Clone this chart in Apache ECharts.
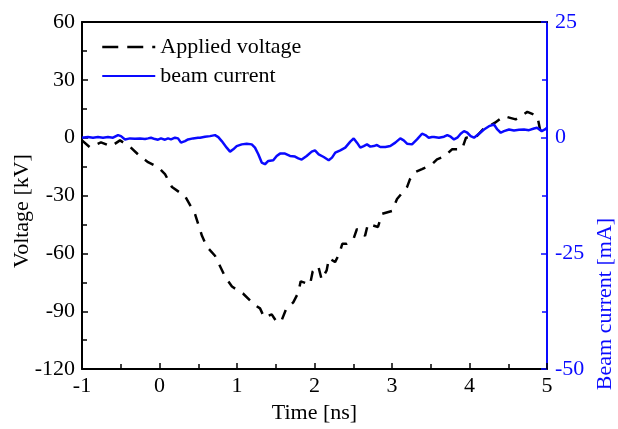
<!DOCTYPE html>
<html>
<head>
<meta charset="utf-8">
<script src="https://cdn.jsdelivr.net/npm/echarts@6/dist/echarts.min.js"></script>
<style>html,body{margin:0;padding:0;background:#fff;}#c{width:618px;height:429px;}</style>
</head>
<body>
<div id="c"></div>
<script>
// Applied voltage (kV) vs time (ns)
const voltageTime = [-1.000,-0.897,-0.755,-0.626,-0.510,-0.381,-0.252,-0.148,-0.019,0.071,0.161,0.329,0.458,0.548,0.613,0.716,0.845,0.935,1.077,1.232,1.297,1.352,1.448,1.516,1.577,1.632,1.726,1.791,1.822,1.942,1.977,2.049,2.093,2.157,2.187,2.265,2.320,2.359,2.415,2.501,2.548,2.652,2.690,2.819,2.871,3.000,3.065,3.194,3.232,3.297,3.387,3.516,3.581,3.684,3.774,3.903,3.955,4.084,4.174,4.329,4.445,4.596,4.746,4.875,4.910,5.000];
const voltageKV = [-1.4,-5.0,-2.4,-4.5,-1.4,-4.7,-9.6,-12.7,-15.3,-18.9,-25.6,-30.3,-39.5,-50.9,-56.6,-61.2,-72.0,-77.2,-80.8,-86.8,-88.5,-93.3,-91.6,-95.8,-94.6,-89.1,-85.4,-80.3,-74.5,-76.2,-69.3,-66.7,-73.6,-68.8,-62.4,-64.5,-60.2,-55.0,-55.0,-52.8,-47.3,-50.9,-44.7,-46.3,-39.5,-38.0,-31.8,-25.6,-21.5,-17.9,-16.3,-13.8,-11.2,-9.6,-6.0,-6.0,0.0,0.4,4.3,7.8,11.2,9.5,13.4,11.2,4.3,5.8];
// Beam current (mA) vs time (ns)
const currentTime = [-1.000,-0.923,-0.858,-0.794,-0.729,-0.665,-0.600,-0.535,-0.497,-0.445,-0.381,-0.316,-0.252,-0.187,-0.148,-0.110,-0.058,-0.019,0.019,0.071,0.110,0.148,0.200,0.239,0.277,0.329,0.368,0.432,0.497,0.523,0.587,0.652,0.716,0.759,0.803,0.867,0.910,0.952,0.996,1.061,1.125,1.190,1.232,1.275,1.319,1.361,1.404,1.468,1.512,1.555,1.619,1.684,1.748,1.791,1.835,1.899,1.964,2.006,2.054,2.119,2.183,2.226,2.268,2.333,2.397,2.462,2.506,2.548,2.591,2.635,2.677,2.720,2.764,2.806,2.849,2.914,2.978,3.043,3.107,3.151,3.194,3.258,3.323,3.387,3.430,3.474,3.516,3.542,3.606,3.671,3.714,3.757,3.800,3.843,3.886,3.929,3.972,4.015,4.058,4.123,4.187,4.252,4.316,4.359,4.403,4.445,4.510,4.574,4.639,4.703,4.768,4.832,4.871,4.932,4.974,5.000];
const currentMA = [0.0,0.13,0.0,0.13,0.0,0.13,0.0,0.56,0.34,-0.37,-0.15,-0.21,-0.15,-0.30,-0.15,0.0,-0.30,-0.43,-0.15,-0.43,-0.15,-0.37,0.0,-0.15,-1.07,-0.73,-0.37,-0.15,0.0,0.0,0.21,0.34,0.56,0.13,-0.73,-2.15,-3.01,-2.51,-1.81,-1.44,-1.29,-1.44,-2.15,-3.59,-5.37,-5.74,-5.03,-4.88,-3.95,-3.44,-3.44,-3.95,-4.08,-4.45,-4.73,-3.95,-3.01,-2.73,-3.59,-4.17,-4.88,-4.30,-3.22,-2.73,-2.15,-0.86,-0.15,-1.07,-2.15,-1.81,-1.44,-1.93,-1.81,-1.59,-2.02,-2.02,-1.81,-1.07,-0.15,-0.58,-1.29,-1.44,-0.37,0.86,0.56,0.0,0.13,0.13,0.0,0.21,0.56,0.21,-0.37,0.0,0.86,1.42,1.07,0.34,0.0,0.86,1.78,2.49,2.86,1.78,1.07,1.42,1.78,1.57,1.72,1.78,1.63,2.00,2.15,1.42,1.78,2.15];

const seriesNames = ['Applied voltage', 'beam current'];
const axisTitles = { x: 'Time [ns]', yLeft: 'Voltage [kV]', yRight: 'Beam current [mA]' };

const FONT = 'Liberation Serif, Times New Roman, serif';
const BLUE = '#0a0aff';

const chart = echarts.init(document.getElementById('c'), null, { renderer: 'canvas' });
const zip = (a, b) => a.map((v, i) => [v, b[i]]);

chart.setOption({
  backgroundColor: '#fff',
  animation: false,
  grid: { left: 82, right: 71, top: 22, bottom: 58, containLabel: false },
  legend: {
    orient: 'vertical', left: 96, top: 31,
    itemWidth: 53, itemHeight: 14, itemGap: 7,
    itemStyle: { opacity: 0, color: 'rgba(0,0,0,0)', borderWidth: 0 },
    textStyle: { fontFamily: FONT, fontSize: 22, color: '#000', lineHeight: 22 },
    data: [
      { name: seriesNames[0], lineStyle: { type: [16, 9], width: 2.5, color: '#000' }, itemStyle: { opacity: 0 } },
      { name: seriesNames[1], itemStyle: { opacity: 0 } }
    ]
  },
  xAxis: [{
    type: 'value', min: -1, max: 5, interval: 1,
    name: axisTitles.x, nameLocation: 'middle', nameGap: 30,
    nameTextStyle: { fontFamily: FONT, fontSize: 22, color: '#000' },
    axisLine: { show: true, onZero: false, lineStyle: { color: '#000', width: 2 } },
    axisTick: { show: true, inside: true, length: 6, lineStyle: { color: '#000', width: 1.5 } },
    minorTick: { show: true, splitNumber: 2, length: 5, lineStyle: { color: '#000', width: 1.5 } },
    axisLabel: { fontFamily: FONT, fontSize: 22, color: '#000', margin: 6 },
    splitLine: { show: false }
  }, {
    type: 'value', position: 'top', min: -1, max: 5, interval: 1,
    axisLine: { show: true, onZero: false, lineStyle: { color: '#000', width: 2 } },
    axisTick: { show: false }, axisLabel: { show: false }, splitLine: { show: false }
  }],
  yAxis: [{
    type: 'value', min: -120, max: 60, interval: 30, position: 'left',
    axisLine: { show: true, onZero: false, lineStyle: { color: '#000', width: 2 } },
    axisTick: { show: true, inside: true, length: 6, lineStyle: { color: '#000', width: 1.5 } },
    minorTick: { show: true, splitNumber: 2, length: 5, lineStyle: { color: '#000', width: 1.5 } },
    axisLabel: { fontFamily: FONT, fontSize: 22, color: '#000', margin: 7 },
    splitLine: { show: false }
  }, {
    type: 'value', min: -50, max: 25, interval: 25, position: 'right',
    axisLine: { show: true, onZero: false, lineStyle: { color: BLUE, width: 2 } },
    axisTick: { show: true, inside: true, length: 6, lineStyle: { color: BLUE, width: 1.5 } },
    minorTick: { show: true, splitNumber: 2, length: 5, lineStyle: { color: BLUE, width: 1.5 } },
    axisLabel: { fontFamily: FONT, fontSize: 22, color: BLUE, margin: 8 },
    splitLine: { show: false }
  }],
  graphic: [
    { type: 'text', x: 22, y: 211, rotation: Math.PI / 2,
      style: { text: axisTitles.yLeft, fontFamily: FONT, fontSize: 22, fill: '#000', textAlign: 'center', textVerticalAlign: 'middle' } },
    { type: 'text', x: 605, y: 304, rotation: Math.PI / 2,
      style: { text: axisTitles.yRight, fontFamily: FONT, fontSize: 22, fill: BLUE, textAlign: 'center', textVerticalAlign: 'middle' } }
  ],
  series: [{
    name: seriesNames[0], type: 'line', xAxisIndex: 0, yAxisIndex: 0,
    data: zip(voltageTime, voltageKV), symbol: 'none',
    lineStyle: { color: '#000', width: 2.5, type: [10, 9] }, itemStyle: { color: '#000' }
  }, {
    name: seriesNames[1], type: 'line', xAxisIndex: 0, yAxisIndex: 1,
    data: zip(currentTime, currentMA), symbol: 'none',
    lineStyle: { color: BLUE, width: 2.5 }, itemStyle: { color: BLUE }
  }]
});
</script>
</body>
</html>
